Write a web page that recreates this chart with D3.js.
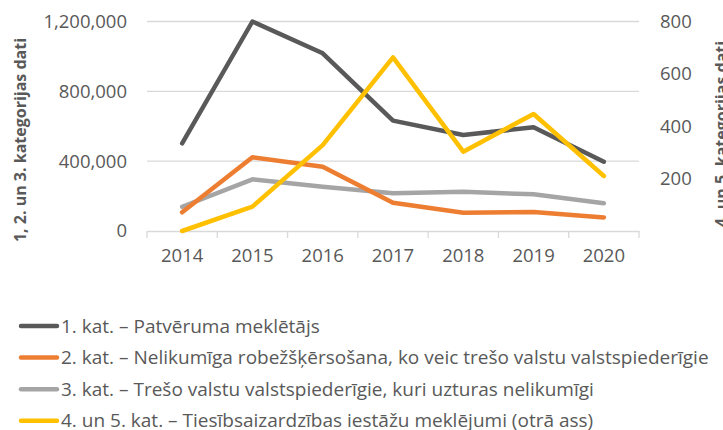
<!DOCTYPE html>
<meta charset="utf-8">
<head>
  <title>Kategoriju dati</title>
  <script src="https://cdn.jsdelivr.net/npm/d3@7"></script>
  <style>
    body { margin: 0; background: #fff; overflow: hidden; }
    text { font-family: "Open Sans", sans-serif; fill: #595959; }
    .grid line { stroke: #d9d9d9; stroke-width: 1.3; }
    .axtitle { font-weight: bold; font-size: 16px; }
  </style>
</head>
<body>
<div id="chart"></div>
<script>
  // chart data
  var years = ["2014", "2015", "2016", "2017", "2018", "2019", "2020"];
  var cat1 = [502000, 1200000, 1018000, 632000, 550000, 594000, 397000];
  var cat2 = [107000, 422000, 368000, 162000, 105000, 109000, 78000];
  var cat3 = [139000, 296000, 254000, 216000, 225000, 210000, 159000];
  var cat45 = [0, 93, 328, 663, 303, 447, 210];
  var leftTicks = [0, 400000, 800000, 1200000];
  var rightTicks = [200, 400, 600, 800];
  var seriesNames = [
    "1. kat. – Patvēruma meklētājs",
    "2. kat. – Nelikumīga robežšķērsošana, ko veic trešo valstu valstspiederīgie",
    "3. kat. – Trešo valstu valstspiederīgie, kuri uzturas nelikumīgi",
    "4. un 5. kat. – Tiesībsaizardzības iestāžu meklējumi (otrā ass)"
  ];
  var colors = ["#595959", "#ed7d31", "#a5a5a5", "#ffc000"];

  var w = 723, h = 430;
  var svg = d3.select("#chart").append("svg").attr("width", w).attr("height", h);

  var x = d3.scaleBand().domain(years).range([147, 639]);
  var yL = d3.scaleLinear().domain([0, 1200000]).range([231, 21.5]);
  var yR = d3.scaleLinear().domain([0, 800]).range([231, 21.5]);

  // gridlines
  svg.append("g").attr("class", "grid")
    .selectAll("line").data(leftTicks.slice(1)).enter().append("line")
    .attr("x1", 147).attr("x2", 639)
    .attr("y1", d => yL(d)).attr("y2", d => yL(d));

  // x axis
  var xa = svg.append("g").attr("transform", "translate(0,231)")
    .call(d3.axisBottom(x).tickSize(0).tickPadding(18));
  xa.select(".domain").attr("stroke", "#d9d9d9").attr("stroke-width", 1.3);
  xa.selectAll("text").attr("font-size", "18.5px").style("fill", "#595959");
  svg.append("g").selectAll("line").data(years.concat(["end"])).enter().append("line")
    .attr("x1", (d, i) => 147 + i * x.step()).attr("x2", (d, i) => 147 + i * x.step())
    .attr("y1", 231).attr("y2", 238).attr("stroke", "#d9d9d9").attr("stroke-width", 1.3);

  // left axis labels
  var la = svg.append("g").attr("transform", "translate(147,0)")
    .call(d3.axisLeft(yL).tickValues(leftTicks).tickSize(0).tickPadding(20).tickFormat(d3.format(",")));
  la.select(".domain").remove();
  la.selectAll("text").attr("font-size", "18.5px").style("fill", "#595959");

  // right axis labels
  var ra = svg.append("g").attr("transform", "translate(639,0)")
    .call(d3.axisRight(yR).tickValues(rightTicks).tickSize(0).tickPadding(21));
  ra.select(".domain").remove();
  ra.selectAll("text").attr("font-size", "18.5px").style("fill", "#595959");

  // axis titles
  svg.append("text").attr("class", "axtitle")
    .attr("transform", "translate(26,140) rotate(-90)")
    .attr("text-anchor", "middle").text("1, 2. un 3. kategorijas dati");
  svg.append("text").attr("class", "axtitle")
    .attr("transform", "translate(727,134) rotate(-90)")
    .attr("text-anchor", "middle").text("4. un 5. kategorijas dati");

  // lines
  var cx = d => x(d) + x.bandwidth() / 2;
  var leftSeries = [cat1, cat2, cat3];
  var drawOrder = [2, 1, 0];
  drawOrder.forEach(function (k) {
    var line = d3.line().x((d, i) => cx(years[i])).y(d => yL(d));
    svg.append("path").datum(leftSeries[k])
      .attr("d", line).attr("fill", "none")
      .attr("stroke", colors[k]).attr("stroke-width", 4.5)
      .attr("stroke-linecap", "round").attr("stroke-linejoin", "round");
  });
  var line2 = d3.line().x((d, i) => cx(years[i])).y(d => yR(d));
  svg.append("path").datum(cat45)
    .attr("d", line2).attr("fill", "none")
    .attr("stroke", colors[3]).attr("stroke-width", 4.5)
    .attr("stroke-linecap", "round").attr("stroke-linejoin", "round");

  // legend
  var lg = svg.append("g").selectAll("g").data(seriesNames).enter().append("g")
    .attr("transform", (d, i) => "translate(0," + (326 + i * 31.6) + ")");
  lg.append("line").attr("x1", 21).attr("x2", 57).attr("y1", 0).attr("y2", 0)
    .attr("stroke", (d, i) => colors[i]).attr("stroke-width", 4.5).attr("stroke-linecap", "round");
  lg.append("text").attr("x", 61).attr("y", 6.5).attr("font-size", "19px").text(d => d);
</script>
</body>
